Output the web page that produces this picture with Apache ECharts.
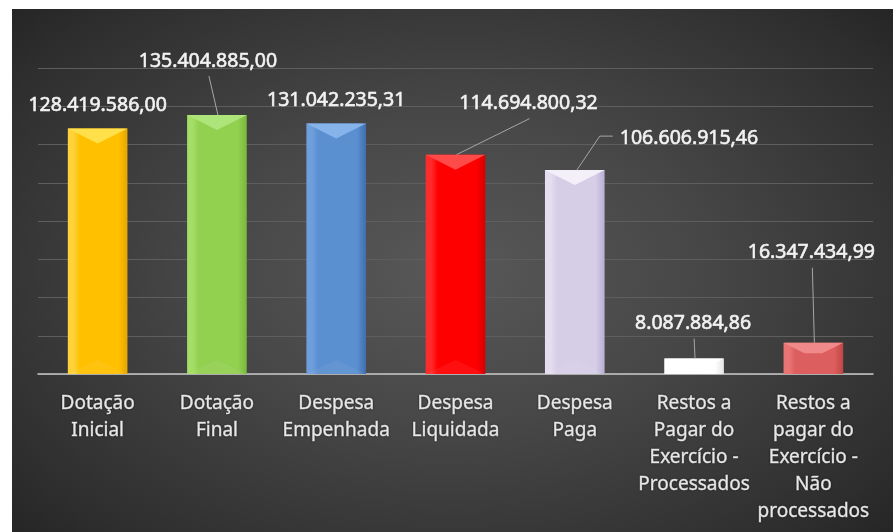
<!DOCTYPE html>
<html>
<head>
<meta charset="utf-8">
<script src="https://cdn.jsdelivr.net/npm/echarts@6/dist/echarts.min.js"></script>
<style>
html,body{margin:0;padding:0;background:#fff;width:893px;height:532px;overflow:hidden;}
#chart{position:absolute;left:12px;top:9px;width:881px;height:523px;
background:radial-gradient(ellipse 70% 75% at 50% 50%, #585858 0%, #474747 40%, #2e2e2e 85%, #242424 100%);}
</style>
</head>
<body>
<div id="chart"></div>
<script>
const categories = [
  "Dotação\nInicial",
  "Dotação\nFinal",
  "Despesa\nEmpenhada",
  "Despesa\nLiquidada",
  "Despesa\nPaga",
  "Restos a\nPagar do\nExercício -\nProcessados",
  "Restos a\npagar do\nExercício -\nNão\nprocessados"
];
const values = [128419586.00, 135404885.00, 131042235.31, 114694800.32, 106606915.46, 8087884.86, 16347434.99];
const valueLabels = ["128.419.586,00","135.404.885,00","131.042.235,31","114.694.800,32","106.606.915,46","8.087.884,86","16.347.434,99"];

// styling (not data): [leftEdge, front, rightEdge, topFace]
const barColors = [
  ["#FFD23A","#FFC000","#E3A600","#FFE04A"],
  ["#A4DE66","#92D050","#79B83E","#AEE57A"],
  ["#6E9FDC","#5A8FD0","#3F6EAE","#86B4EA"],
  ["#FF2A2A","#FF0000","#D40000","#FF4A4A"],
  ["#E4DEF0","#D6CEE6","#B9AED3","#F3F0F9"],
  ["#FFFFFF","#FFFFFF","#E4E4E4","#FFFFFF"],
  ["#E87474","#DC5E5E","#C04646","#F08A8A"]
];
// label placement relative to bar top centre; mode: none / bottom / left
const labelShift = [[0,-23],[-9,-54],[0,-23],[73,-51],[45,-32],[-1,-35],[-2,-90]];
const leaderMode = ["none","bottom","none","bottom","left","bottom","bottom"];

const chart = echarts.init(document.getElementById('chart'), null, {renderer:'canvas'});
const fontFam = '"Noto Sans", "DejaVu Sans", sans-serif';

function renderBar(params, api){
  const i = api.value(0), v = api.value(1);
  const top = api.coord([i, v]);
  const base = api.coord([i, 0]);
  const w = api.size([1, 0])[0] * 0.5;
  const x0 = top[0] - w/2, x1 = top[0] + w/2, xc = top[0];
  const y0 = top[1], yb = base[1], h = yb - y0;
  const c = barColors[i];
  const d = Math.min(15, h/3), inset = Math.min(w/2, d*2);
  const children = [];
  children.push({type:'rect', shape:{x:x0,y:y0,width:w,height:h},
    style:{fill:new echarts.graphic.LinearGradient(0,0,1,0,[
      {offset:0,color:c[0]},{offset:0.1,color:c[0]},{offset:0.2,color:c[1]},
      {offset:0.85,color:c[1]},{offset:1,color:c[2]}])}});
  children.push({type:'polygon', shape:{points:[[x0,y0],[x1,y0],[x1-inset,y0+d],[x0+inset,y0+d]]},
    style:{fill:c[3]}});
  if (h > 40) {
    children.push({type:'polygon', shape:{points:[[x0,yb],[x0+w*0.5,yb-14],[x1,yb]]},
      style:{fill:'rgba(255,255,255,0.06)'}});
  }
  const s = labelShift[i], mode = leaderMode[i];
  const lx = xc + s[0], ly = y0 + s[1];
  if (mode === 'bottom') {
    children.push({type:'polyline', shape:{points:[[lx+1, ly+15],[xc+1, y0]]},
      style:{stroke:'#A6A6A6', lineWidth:1, fill:null}});
  } else if (mode === 'left') {
    children.push({type:'polyline', shape:{points:[[xc+2, y0],[lx-20, ly-2],[lx-7, ly-2]]},
      style:{stroke:'#A6A6A6', lineWidth:1, fill:null}});
  }
  children.push({type:'text', x:lx, y:ly,
    style:{text:valueLabels[i], fill:'#F2F2F2', font:'19.5px ' + fontFam,
      stroke:'#F2F2F2', lineWidth:0.6,
      align: mode === 'left' ? 'left' : 'center', verticalAlign:'middle',
      shadowColor:'rgba(0,0,0,0.7)', shadowBlur:3}});
  return {type:'group', children};
}

chart.setOption({
  animation:false,
  grid:{left:26,right:20,top:59,bottom:158,containLabel:false},
  xAxis:{
    type:'category',
    data:categories,
    axisTick:{show:false},
    axisLine:{show:true,lineStyle:{color:'#C8C8C8',width:1.5}},
    axisLabel:{interval:0,color:'#E8E8E8',fontFamily:fontFam,fontSize:19,lineHeight:27,margin:16,
      textBorderColor:'#E8E8E8',textBorderWidth:0.5,
      textShadowColor:'rgba(0,0,0,0.6)',textShadowBlur:2}
  },
  yAxis:{
    type:'value',
    min:0,max:160000000,interval:20000000,
    axisLabel:{show:false},
    axisLine:{show:false},
    axisTick:{show:false},
    splitLine:{show:true,lineStyle:{color:'#5E5E5E',width:1}}
  },
  series:[{
    type:'custom',
    clip:false,
    data:values.map((v,i)=>[i,v]),
    encode:{x:0,y:1},
    renderItem:renderBar,
    z:3
  }]
});
</script>
</body>
</html>
